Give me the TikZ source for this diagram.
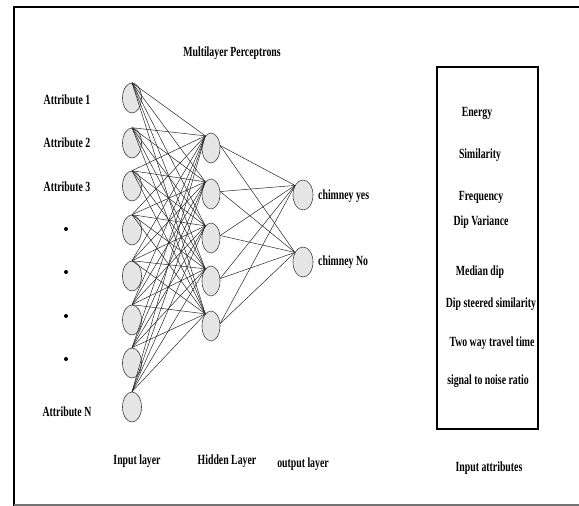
\documentclass[tikz,border=0pt]{standalone}
\usepackage{fontspec}
\setmainfont{Liberation Serif}[FakeStretch=0.7]
\usetikzlibrary{shapes.geometric}

\begin{document}
\begin{tikzpicture}[x=1pt,y=-1pt,font=\fontsize{14}{16}\selectfont\bfseries,
  neuron/.style={ellipse,draw=black!75,fill=black!10,line width=0.6pt,minimum width=19pt,minimum height=30pt,inner sep=0pt},
  lbl/.style={inner sep=1pt},
  link/.style={draw=black!85,line width=0.5pt}]
\useasboundingbox (0,0) rectangle (579,506);
% frame
\draw[line width=2pt] (14,506) -- (14,7) -- (579,7);
\draw[black!55,line width=1.5pt] (14,505) -- (579,505);
\node[lbl] (title) at (232,53) {Multilayer Perceptrons};
% layers
\foreach \i/\y in {1/98,2/143,3/186,4/230,5/276,6/320,7/363,8/407}
  \node[neuron] (in\i) at (132,\y) {};
\foreach \j/\y in {1/148,2/194,3/238,4/281,5/326}
  \node[neuron,minimum width=18pt] (hid\j) at (211,\y) {};
\node[neuron,minimum width=20pt] (out1) at (303,195) {};
\node[neuron,minimum width=20pt] (out2) at (303,262) {};
\foreach \i in {1,...,8}
  \foreach \j in {1,...,5}
    \draw[link] (in\i.north) -- (hid\j.115);
\foreach \j in {1,...,5}
  \foreach \k in {1,2}
    \draw[link] (hid\j.15) -- (out\k.130);
% input labels
\node[lbl] (a1) at (67,100) {Attribute 1};
\node[lbl] (a2) at (67,143) {Attribute 2};
\node[lbl] (a3) at (67,187) {Attribute 3};
\foreach \d/\y in {1/229,2/272,3/316,4/359}
  \node[circle,fill=black,inner sep=0pt,minimum size=4pt] (dot\d) at (66,\y) {};
\node[lbl] (aN) at (67,412) {Attribute N};
\node[lbl,anchor=west] (yes) at (317,196) {chimney yes};
\node[lbl,anchor=west] (no) at (317,262) {chimney No};
% layer names
\node[lbl] (inl) at (137,461) {Input layer};
\node[lbl] (hidl) at (227,461) {Hidden Layer};
\node[lbl] (outl) at (303,464) {output layer};
% attribute list
\node[draw,line width=1.3pt,minimum width=101pt,minimum height=362pt,inner sep=0pt] (list) at (487.5,248) {};
\node[lbl] (e1) at (477,113) {Energy};
\node[lbl] (e2) at (480,155) {Similarity};
\node[lbl] (e3) at (481,197) {Frequency};
\node[lbl] (e4) at (481,222) {Dip Variance};
\node[lbl] (e5) at (480,272) {Median dip};
\node[lbl] (e6) at (491,304) {Dip steered similarity};
\node[lbl] (e7) at (492,343) {Two way travel time};
\node[lbl] (e8) at (488,381) {signal to noise ratio};
\node[lbl] (attl) at (489,468) {Input attributes};
\end{tikzpicture}
\end{document}
